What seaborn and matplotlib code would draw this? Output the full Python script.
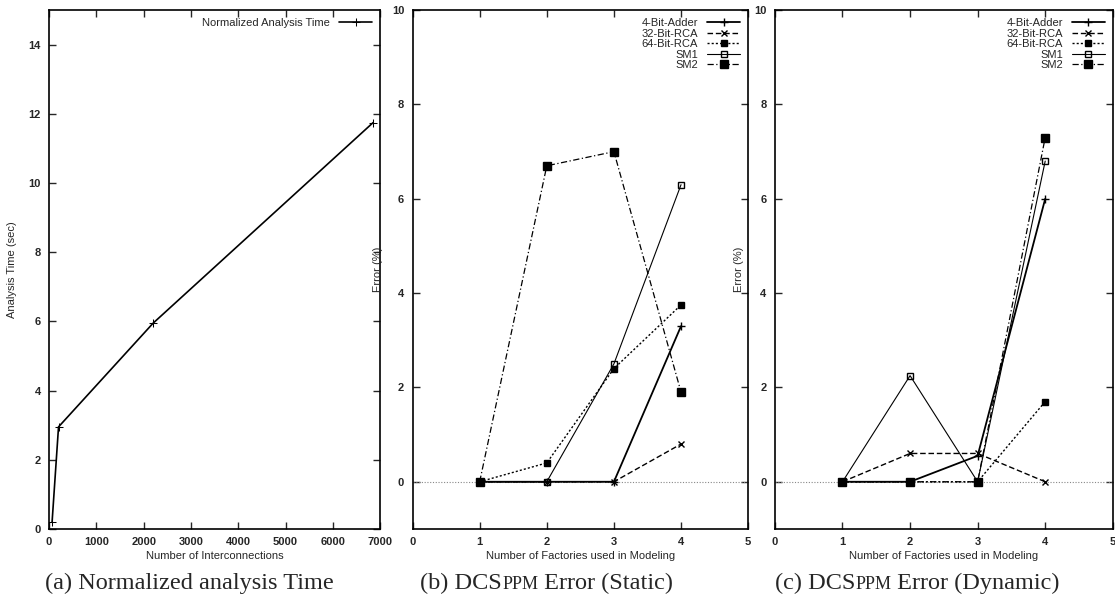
import matplotlib
matplotlib.use("Agg")
import matplotlib.pyplot as plt
import seaborn as sns
import pandas as pd

# (a) normalized analysis time
interconnections = [64, 200, 2200, 6850]
analysis_time = [0.2, 2.95, 5.95, 11.75]

# (b) / (c) DCSPPM error vs. number of factories
factories = [1, 2, 3, 4]
series_names = ["4-Bit-Adder", "32-Bit-RCA", "64-Bit-RCA", "SM1", "SM2"]

static_adder4 = [0, 0, 0, 3.3]
static_rca32 = [0, 0, 0, 0.8]
static_rca64 = [0, 0.4, 2.4, 3.75]
static_sm1 = [0, 0, 2.5, 6.3]
static_sm2 = [0, 6.7, 7.0, 1.9]

dynamic_adder4 = [0, 0, 0.55, 6.0]
dynamic_rca32 = [0, 0.6, 0.6, 0]
dynamic_rca64 = [0, 0, 0, 1.7]
dynamic_sm1 = [0, 2.25, 0, 6.8]
dynamic_sm2 = [0, 0, 0, 7.3]

captions = [("(a) Normalized analysis Time", "", ""),
            ("(b) DCS", "PPM", " Error (Static)"),
            ("(c) DCS", "PPM", " Error (Dynamic)")]

sns.set_style("ticks")
plt.rcParams["font.family"] = ["Liberation Sans", "DejaVu Sans"]

# line style per series: (linestyle, marker, markersize, fill, linewidth)
styles = {
    "4-Bit-Adder": ("-", "+", 6, "full", 1.3),
    "32-Bit-RCA": ((0, (4, 2)), "x", 4.5, "full", 1.0),
    "64-Bit-RCA": ((0, (1.5, 1.5)), "s", 4, "full", 1.0),
    "SM1": ("-", "s", 5, "none", 0.8),
    "SM2": ((0, (5, 2, 1, 2)), "s", 5.5, "full", 0.9),
}

fig = plt.figure(figsize=(11.15, 5.99), dpi=100)
ax_a = fig.add_axes([0.044, 0.117, 0.297, 0.866])
ax_b = fig.add_axes([0.370, 0.117, 0.301, 0.866])
ax_c = fig.add_axes([0.695, 0.117, 0.303, 0.866])

FS = 8


def style_axes(ax):
    for sp in ax.spines.values():
        sp.set_linewidth(1.2)
        sp.set_color("black")
    ax.tick_params(direction="in", top=True, right=True, length=5, width=1,
                   labelsize=FS, pad=6)
    for lbl in ax.get_xticklabels() + ax.get_yticklabels():
        lbl.set_fontweight("bold")


# panel (a)
df_a = pd.DataFrame({"x": interconnections, "y": analysis_time})
sns.lineplot(data=df_a, x="x", y="y", ax=ax_a, color="black", linewidth=1.2,
             marker="+", markersize=6, markeredgecolor="black",
             label="Normalized Analysis Time")
ax_a.set_xlim(0, 7000)
ax_a.set_ylim(0, 15)
ax_a.set_xticks(range(0, 7001, 1000))
ax_a.set_yticks(range(0, 15, 2))
ax_a.set_xlabel("Number of Interconnections", fontsize=FS)
ax_a.set_ylabel("Analysis Time (sec)", fontsize=FS)
ax_a.yaxis.set_label_coords(-0.097, 0.5)
ax_a.xaxis.labelpad = 3
ax_a.legend(loc="upper right", frameon=False, markerfirst=False, fontsize=FS,
            handlelength=3.0, numpoints=1, borderaxespad=0.3)
style_axes(ax_a)

# panels (b) and (c)
panel_data = [
    (ax_b, [static_adder4, static_rca32, static_rca64, static_sm1, static_sm2]),
    (ax_c, [dynamic_adder4, dynamic_rca32, dynamic_rca64, dynamic_sm1, dynamic_sm2]),
]
for ax, values in panel_data:
    ax.axhline(0, color="#888888", linewidth=0.8, linestyle=(0, (1, 1.5)), zorder=1)
    for name, vals in zip(series_names, values):
        ls, mk, ms, fill, lw = styles[name]
        sns.lineplot(x=factories, y=vals, ax=ax, color="black", linewidth=lw,
                     linestyle=ls, marker=mk, markersize=ms, fillstyle=fill,
                     markeredgecolor="black", markeredgewidth=1.0, label=name)
    ax.set_xlim(0, 5)
    ax.set_ylim(-1, 10)
    ax.set_xticks(range(0, 6))
    ax.set_yticks(range(0, 11, 2))
    ax.set_xlabel("Number of Factories used in Modeling", fontsize=FS)
    ax.set_ylabel("Error (%)", fontsize=FS)
    ax.xaxis.labelpad = 3
    ax.legend(loc="upper right", frameon=False, markerfirst=False, fontsize=FS,
              handlelength=3.0, numpoints=1, labelspacing=0.05,
              borderaxespad=0.3)
    style_axes(ax)
ax_b.yaxis.set_label_coords(-0.088, 0.5)
ax_c.yaxis.set_label_coords(-0.092, 0.5)

# captions (serif, small caps for PPM)
cap_y = 0.016
fig.canvas.draw()
renderer = fig.canvas.get_renderer()
for x0, parts in [(0.040, captions[0]), (0.377, captions[1]), (0.695, captions[2])]:
    x = x0
    for i, part in enumerate(parts):
        if not part:
            continue
        size = 13 if i == 1 else 17.5
        t = fig.text(x, cap_y, part, fontsize=size, family="Liberation Serif",
                     va="baseline")
        x = t.get_window_extent(renderer).x1 / fig.bbox.width

fig.savefig("out.png", dpi=100)
